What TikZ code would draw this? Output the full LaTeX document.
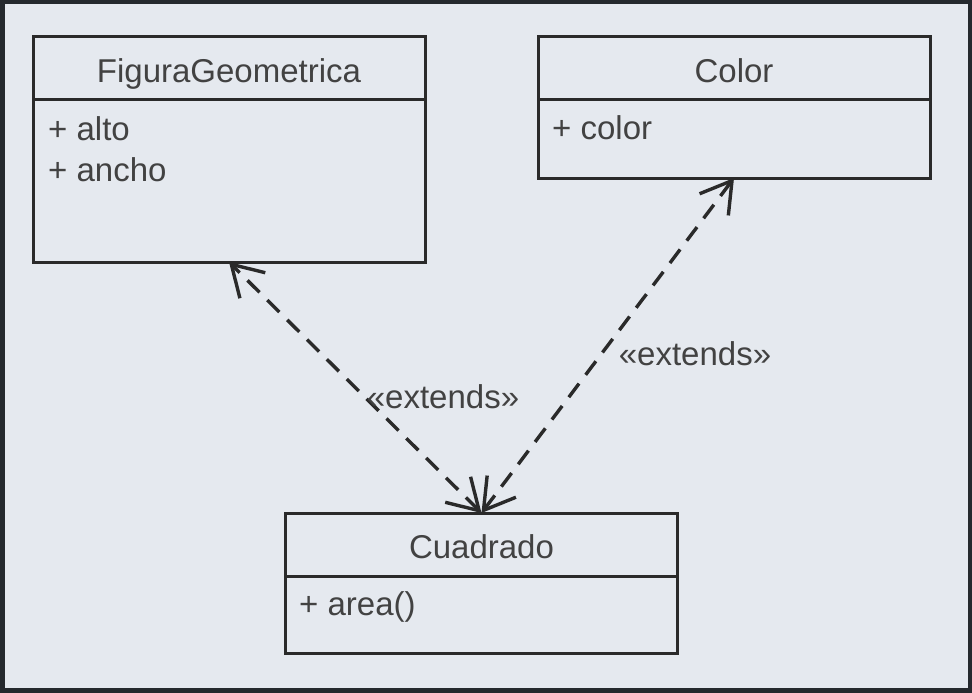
\documentclass[tikz,border=0pt]{standalone}
\usepackage{fontspec}
\setmainfont{Liberation Sans}
\usetikzlibrary{arrows.meta}
\definecolor{framec}{HTML}{25292E}
\definecolor{bgc}{HTML}{E5E9EF}
\definecolor{linec}{HTML}{2A2A2A}
\definecolor{txtc}{HTML}{424242}
\tikzset{
  boxpart/.style={draw=linec, line width=3pt, minimum width=392pt, inner sep=0pt, outer sep=0pt},
  headpart/.style={boxpart, text=txtc, font=\fontsize{33}{40}\selectfont, text height=28pt, text depth=0pt},
  attr/.style={text=txtc, font=\fontsize{33}{40}\selectfont, inner sep=0pt, anchor=base west},
  lbl/.style={text=txtc, font=\fontsize{33}{40}\selectfont, inner sep=0pt, anchor=base},
  dep/.style={draw=linec, line width=3.4pt, dash pattern=on 17pt off 11pt,
    {Straight Barb[length=30pt,width=36pt]}-{Straight Barb[length=30pt,width=36pt]}}
}
\begin{document}
\begin{tikzpicture}[x=1pt,y=-1pt]
\useasboundingbox (0,0) rectangle (972,693);
\fill[framec] (0,0) rectangle (972,693);
\fill[bgc] (5,4) rectangle (968,688);

% FiguraGeometrica
\node[headpart, minimum height=62pt] (figH) at (229,68) {FiguraGeometrica};
\node[boxpart, minimum height=163pt] (figB) at (229,180.5) {};
\node[attr] (figA1) at (48,140) {+ alto};
\node[attr] (figA2) at (48,181) {+ ancho};

% Color
\node[headpart, minimum height=62pt] (colH) at (734,68) {Color};
\node[boxpart, minimum height=79pt] (colB) at (734,138.5) {};
\node[attr] (colA1) at (552,139) {+ color};

% Cuadrado
\node[headpart, minimum height=63pt] (cuaH) at (481.5,544.5) {Cuadrado};
\node[boxpart, minimum height=77pt] (cuaB) at (481.5,614.5) {};
\node[attr] (cuaA1) at (299,615) {+ area()};

% connectors
\draw[dep] (cuaH.north) -- (figB.south);
\draw[dep] (cuaH.north) -- (colB.south);

\node[lbl] (lbl1) at (443,408) {«extends»};
\node[lbl] (lbl2) at (695,365) {«extends»};
\end{tikzpicture}
\end{document}
